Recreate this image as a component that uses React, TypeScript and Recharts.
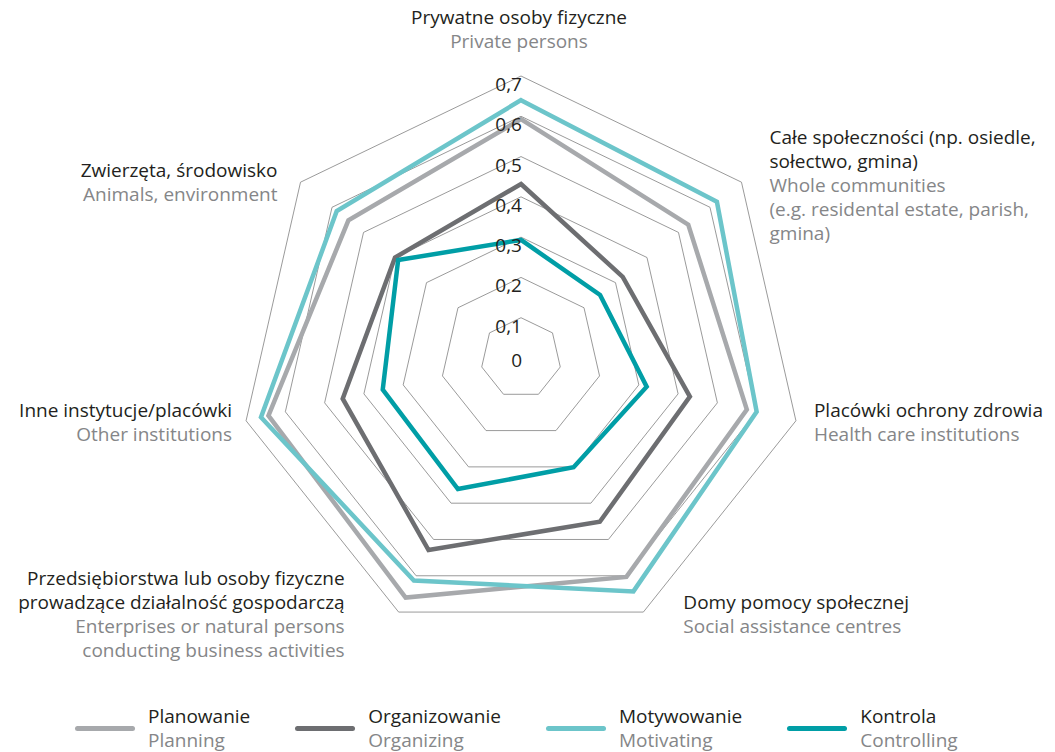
import React from "react";
import {
  RadarChart,
  Radar,
  PolarGrid,
  PolarAngleAxis,
  PolarRadiusAxis,
} from "recharts";

// axis categories, Polish + English label lines
const categories = ["priv", "comm", "health", "social", "enterp", "other", "animals"];
const labelsPl = [
  ["Prywatne osoby fizyczne"],
  ["Całe społeczności (np. osiedle,", "sołectwo, gmina)"],
  ["Placówki ochrony zdrowia"],
  ["Domy pomocy społecznej"],
  ["Przedsiębiorstwa lub osoby fizyczne", "prowadzące działalność gospodarczą"],
  ["Inne instytucje/placówki"],
  ["Zwierzęta, środowisko"],
];
const labelsEn = [
  ["Private persons"],
  ["Whole communities", "(e.g. residental estate, parish,", "gmina)"],
  ["Health care institutions"],
  ["Social assistance centres"],
  ["Enterprises or natural persons", "conducting business activities"],
  ["Other institutions"],
  ["Animals, environment"],
];

const planowanie = [0.593, 0.531, 0.575, 0.603, 0.66, 0.643, 0.548];
const organizowanie = [0.432, 0.323, 0.43, 0.451, 0.529, 0.454, 0.4];
const motywowanie = [0.64, 0.622, 0.6, 0.643, 0.613, 0.662, 0.585];
const kontrola = [0.293, 0.251, 0.32, 0.301, 0.361, 0.352, 0.39];

const radiusTicks = [0, 0.1, 0.2, 0.3, 0.4, 0.5, 0.6, 0.7];

const series = [
  { key: "planowanie", pl: "Planowanie", en: "Planning", color: "#a7a9ac" },
  { key: "organizowanie", pl: "Organizowanie", en: "Organizing", color: "#6d6e71" },
  { key: "motywowanie", pl: "Motywowanie", en: "Motivating", color: "#6cc5ca" },
  { key: "kontrola", pl: "Kontrola", en: "Controlling", color: "#009ea6" },
];

const data = categories.map((c, i) => ({
  category: c,
  planowanie: planowanie[i],
  organizowanie: organizowanie[i],
  motywowanie: motywowanie[i],
  kontrola: kontrola[i],
}));

const FONT = "'Open Sans', sans-serif";
const FS = 19;
const DARK = "#231f20";
const GREY = "#858688";
const CX = 521;
const CY = 358;
const R = 282;
const LINE_H = 24;

// where the category labels sit relative to the outer vertex
const labelPlace: { anchor: "start" | "middle" | "end"; dx: number; dy: number }[] = [
  { anchor: "middle", dx: -2, dy: -59 },
  { anchor: "start", dx: 28, dy: -45 },
  { anchor: "start", dx: 18, dy: -11 },
  { anchor: "start", dx: 40, dy: -10 },
  { anchor: "end", dx: -54, dy: -34 },
  { anchor: "end", dx: -14, dy: -11 },
  { anchor: "end", dx: -23, dy: -12 },
];

const AngleTick = (props: any) => {
  const i = categories.indexOf(props.payload.value);
  if (i < 0) return null;
  const a = ((2 * Math.PI) / categories.length) * i;
  const vx = CX + R * Math.sin(a);
  const vy = CY - R * Math.cos(a);
  const p = labelPlace[i];
  const lines = [
    ...labelsPl[i].map((t) => ({ t, c: DARK })),
    ...labelsEn[i].map((t) => ({ t, c: GREY })),
  ];
  return (
    <g>
      {lines.map((l, j) => (
        <text
          key={j}
          x={vx + p.dx}
          y={vy + p.dy + j * LINE_H}
          textAnchor={p.anchor}
          dominantBaseline="central"
          fill={l.c}
          fontSize={FS}
          fontFamily={FONT}
        >
          {l.t}
        </text>
      ))}
    </g>
  );
};

const RadiusTick = (props: any) => {
  const v = Number(props.payload.value);
  const label = v === 0 ? "0" : v.toFixed(1).replace(".", ",");
  return (
    <text
      x={props.x + 1}
      y={props.y + (v === 0 ? 2 : 8)}
      textAnchor="end"
      dominantBaseline="central"
      fill={DARK}
      fontSize={FS}
      fontFamily={FONT}
    >
      {label}
    </text>
  );
};

const LegendBox = () => (
  <div
    style={{
      position: "absolute",
      left: 75,
      top: 704,
      display: "flex",
      gap: 45,
      fontFamily: FONT,
      fontSize: FS,
      lineHeight: "24px",
    }}
  >
    {series.map((s) => (
      <div key={s.key} style={{ display: "flex", alignItems: "center" }}>
        <div
          style={{
            width: 60,
            height: 5,
            borderRadius: 3,
            background: s.color,
            marginRight: 13,
          }}
        />
        <div>
          <div style={{ color: DARK }}>{s.pl}</div>
          <div style={{ color: GREY }}>{s.en}</div>
        </div>
      </div>
    ))}
  </div>
);

export default function App() {
  return (
    <div style={{ position: "absolute", left: 0, top: 0, width: 1055, height: 752, background: "#fff" }}>
      <RadarChart
        width={1055}
        height={752}
        data={data}
        cx={CX}
        cy={CY}
        outerRadius={R}
        margin={{ top: 0, right: 0, bottom: 0, left: 0 }}
      >
        <PolarGrid gridType="polygon" radialLines={false} stroke="#808080" strokeWidth={0.8} />
        <PolarAngleAxis dataKey="category" tick={<AngleTick />} axisLine={false} tickLine={false} />
        <PolarRadiusAxis
          angle={90}
          type="number"
          domain={[0, 0.7]}
          allowDecimals
          allowDataOverflow
          tickCount={radiusTicks.length}
          ticks={radiusTicks as any}
          axisLine={false}
          tick={<RadiusTick />}
        />
        {series.map((s) => (
          <Radar
            key={s.key}
            dataKey={s.key}
            stroke={s.color}
            strokeWidth={4.5}
            fill="none"
            fillOpacity={0}
            dot={false}
            isAnimationActive={false}
          />
        ))}
      </RadarChart>
      <LegendBox />
    </div>
  );
}
